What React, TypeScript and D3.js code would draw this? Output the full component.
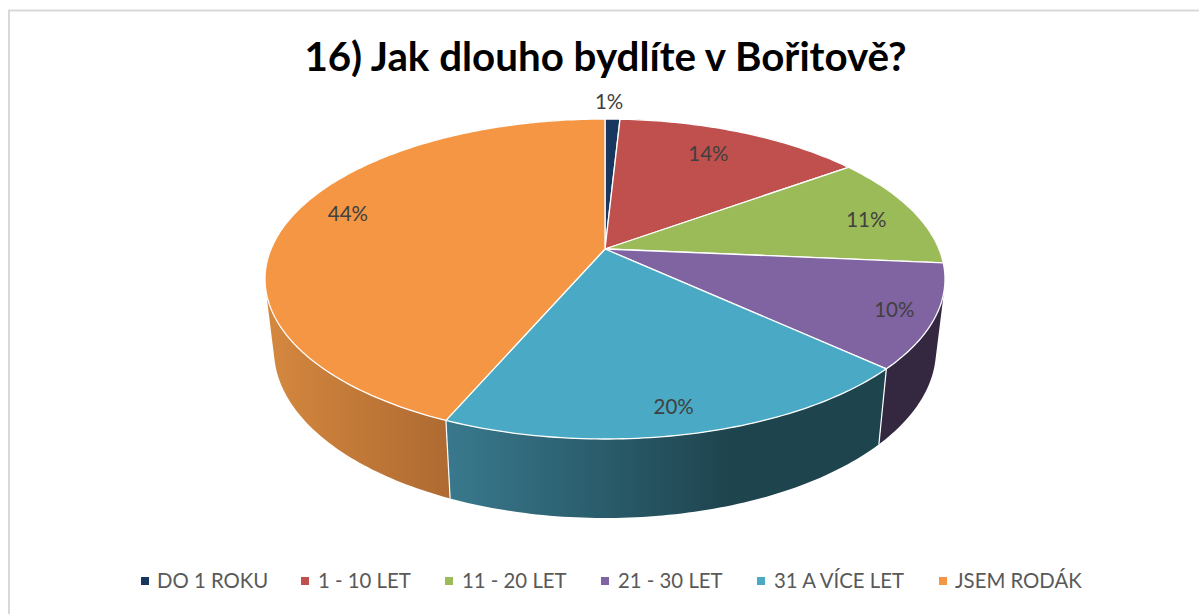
import React from "react";
import * as d3 from "d3";

const title = "16) Jak dlouho bydlíte v Bořitově?";
const categories = ["DO 1 ROKU", "1 - 10 LET", "11 - 20 LET", "21 - 30 LET", "31 A VÍCE LET", "JSEM RODÁK"];
const values = [0.85, 14.15, 11.4, 10.45, 19.6, 43.55];
const topColors = ["#17375E", "#BF504D", "#9BBB59", "#8064A2", "#4AAAC5", "#F59645"];
const sideStops: [number, string][][] = [
  [[0, "#0E2238"], [1, "#0E2238"]],
  [[0, "#5E2725"], [1, "#5E2725"]],
  [[0, "#4C5C2C"], [1, "#4C5C2C"]],
  [[0, "#332840"], [1, "#332840"]],
  [[0, "#39798D"], [0.55, "#2A5C6B"], [1, "#1E444E"]],
  [[0, "#D5883F"], [1, "#AE6A31"]],
];
const sideGradientX: [number, number][] = [[600, 640], [620, 850], [850, 945], [880, 945], [446, 730], [265, 450]];

const labelRadius = [1.159, 0.778, 0.834, 0.886, 0.876, 0.838];
const labelShiftDeg = [-0.8, -1.8, 2, 0.6, 0.7, 4.8];
const legendSwatchX = [141, 301, 445, 601, 757, 939];
const legendTextX = [157, 318, 462, 618, 774, 955];

const W = 1199, H = 614;
const BOOST = -0.1875;
const BOOST_K = Math.sqrt(1 - BOOST * BOOST);

// Unit-disc coordinates of a pie polar point, under the perspective of the tilted disc.
function project(theta: number, r = 1): [number, number] {
  const x = r * Math.sin(theta), y = -r * Math.cos(theta);
  const d = 1 + BOOST * y;
  return [(x * BOOST_K) / d, (y + BOOST) / d];
}

const topX = d3.scaleLinear().domain([-1, 1]).range([265, 945]);
const topY = d3.scaleLinear().domain([-1, 1]).range([119, 439]);
const botX = d3.scaleLinear().domain([-1, 1]).range([274, 936]);
const botY = d3.scaleLinear().domain([-1, 1]).range([182, 518]);

const line = d3.line<[number, number]>().x((d) => d[0]).y((d) => d[1]);

function rim(a0: number, a1: number): [number, number][] {
  const n = Math.max(2, Math.ceil((a1 - a0) * 60));
  return d3.range(n + 1).map((i) => project(a0 + ((a1 - a0) * i) / n));
}

export default function App() {
  const arcs = d3.pie<number>().sort(null).value((d) => d)(values);
  const pct = d3.format(".0f");
  const fontFamily = "Lato, 'Open Sans', sans-serif";

  // Each side wall is a union of small quads, all wound the same way, so they merge into one shape.
  const walls = arcs.map((a, i) => {
    const pts = rim(a.startAngle, a.endAngle);
    const d = d3
      .pairs(pts)
      .map(([p, q]) => {
        const quad: [number, number][] = [
          [topX(p[0]), topY(p[1])],
          [topX(q[0]), topY(q[1])],
          [botX(q[0]), botY(q[1])],
          [botX(p[0]), botY(p[1])],
        ];
        const ordered = d3.polygonArea(quad) < 0 ? quad.slice().reverse() : quad;
        return line(ordered)! + "Z";
      })
      .join("");
    return { i, d, depth: d3.mean(pts, (p) => p[1])! };
  });
  walls.sort((a, b) => d3.ascending(a.depth, b.depth));

  const seams = arcs
    .map((a) => project(a.startAngle))
    .filter((p) => p[1] > 0.2);

  return (
    <svg width={W} height={H} style={{ position: "fixed", left: 0, top: 0, background: "#fff" }} fontFamily={fontFamily}>
      <defs>
        {sideStops.map((stops, i) => (
          <linearGradient key={i} id={`side${i}`} gradientUnits="userSpaceOnUse" x1={sideGradientX[i][0]} x2={sideGradientX[i][1]} y1={0} y2={0}>
            {stops.map(([o, c], j) => (
              <stop key={j} offset={o} stopColor={c} />
            ))}
          </linearGradient>
        ))}
      </defs>
      <path d={`M9,${H}V10.5H${W}`} fill="none" stroke="#D9D9D9" strokeWidth={2} />
      <text x={605.5} y={71} textAnchor="middle" fontSize={40.3} fontWeight={700} fill="#000">{title}</text>

      {walls.map((w) => (
        <path key={w.i} d={w.d} fill={`url(#side${w.i})`} fillRule="nonzero" />
      ))}
      {seams.map((p, k) => (
        <line key={k} x1={topX(p[0])} y1={topY(p[1])} x2={botX(p[0])} y2={botY(p[1])} stroke="#fff" strokeWidth={1.2} />
      ))}

      {arcs.map((a, i) => {
        const top = rim(a.startAngle, a.endAngle).map(([x, y]) => [topX(x), topY(y)] as [number, number]);
        const apex: [number, number] = [topX(0), topY(BOOST)];
        return <path key={i} d={line([apex, ...top])! + "Z"} fill={topColors[i]} stroke="#fff" strokeWidth={1.3} strokeLinejoin="round" />;
      })}

      {arcs.map((a, i) => {
        const mid = (a.startAngle + a.endAngle) / 2 + (labelShiftDeg[i] * Math.PI) / 180;
        const [x, y] = project(mid, labelRadius[i]);
        return (
          <text key={i} x={topX(x)} y={topY(y)} dy="0.35em" textAnchor="middle" fontSize={20.5} fill="#404040">
            {pct(values[i])}%
          </text>
        );
      })}

      {categories.map((c, i) => (
        <g key={c}>
          <rect x={legendSwatchX[i]} y={577} width={8} height={8} fill={topColors[i]} />
          <text x={legendTextX[i]} y={588} fontSize={20.35} fill="#595959">{c}</text>
        </g>
      ))}
    </svg>
  );
}
